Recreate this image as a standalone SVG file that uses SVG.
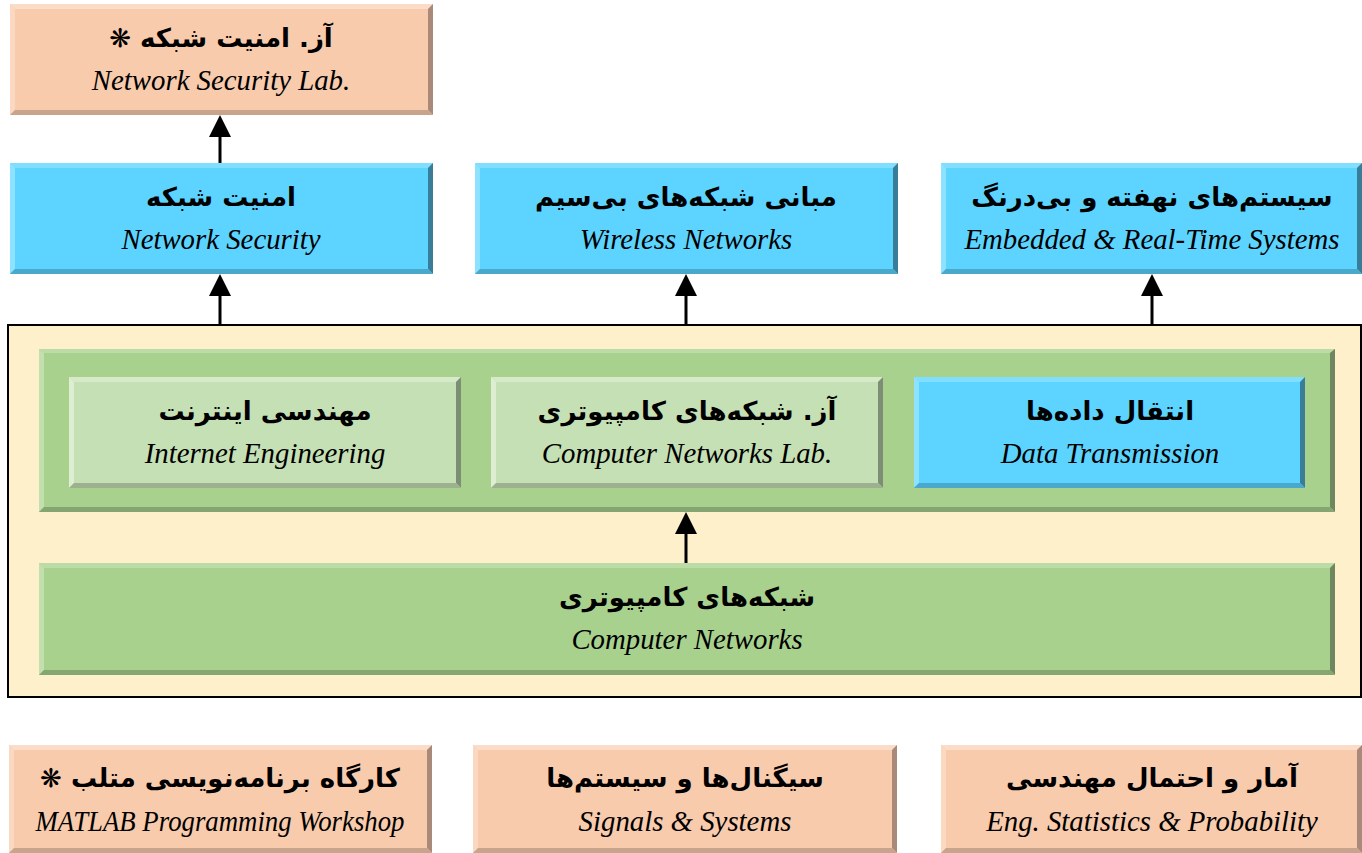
<svg xmlns="http://www.w3.org/2000/svg" width="1362" height="853" viewBox="0 0 1362 853">
<style>
.fa{font-family:"DejaVu Sans","Noto Sans",sans-serif;font-weight:bold;font-size:26px;fill:#000;text-anchor:middle}
.en{font-family:"Liberation Serif",serif;font-style:italic;font-size:28.8px;fill:#000;text-anchor:middle}
.pe .m{fill:#F8CBAD}.pe .t{fill:#FBDCC9}.pe .l{fill:#FAD8C2}.pe .r{fill:#A8897A}.pe .b{fill:#C8A48C}
.bl .m{fill:#5CD4FF}.bl .t{fill:#80DFFF}.bl .l{fill:#8DE3FF}.bl .r{fill:#3A7D98}.bl .b{fill:#4AA8CB}
.lg .m{fill:#C5E0B4}.lg .t{fill:#D6EACA}.lg .l{fill:#DDEED3}.lg .r{fill:#7E8E74}.lg .b{fill:#9DB190}
.gr .m{fill:#A9D18E}.gr .t{fill:#BCDBA6}.gr .l{fill:#C2DFAE}.gr .r{fill:#6E875E}.gr .b{fill:#86A671}
.conn line{stroke:#000;stroke-width:3}
</style>
<defs>
<marker id="ah" markerUnits="userSpaceOnUse" markerWidth="22" markerHeight="22" viewBox="0 0 20 20" refX="10" refY="10" orient="auto">
<path d="M0,0 L20,10 L0,20 z" fill="#000"/>
</marker>
</defs>
<rect width="1362" height="853" fill="#fff"/>

<g id="container">
<rect x="8" y="325" width="1353" height="372" fill="#FFF0CC" stroke="#000" stroke-width="2"/>
</g>

<g id="panel" class="gr">
<rect class="m" x="39" y="349" width="1296" height="163"/>
<polygon class="t" points="39,349 1335,349 1330,353 44,353"/>
<polygon class="l" points="39,349 44,353 44,507 39,512"/>
<polygon class="r" points="1335,349 1335,512 1330,507 1330,353"/>
<polygon class="b" points="39,512 44,507 1330,507 1335,512"/>
</g>

<g id="netseclab" class="pe">
<rect class="m" x="10" y="4" width="423" height="111"/>
<polygon class="t" points="10,4 433,4 428,9 15,9"/>
<polygon class="l" points="10,4 15,9 15,110 10,115"/>
<polygon class="r" points="433,4 433,115 428,110 428,9"/>
<polygon class="b" points="10,115 15,110 428,110 433,115"/>
<text class="fa" x="221" y="47" direction="rtl">آز. امنیت شبکه ❋</text>
<text class="en" x="221" y="90">Network Security Lab.</text>
</g>

<g id="netsec" class="bl">
<rect class="m" x="10" y="163" width="423" height="111"/>
<polygon class="t" points="10,163 433,163 428,168 15,168"/>
<polygon class="l" points="10,163 15,168 15,269 10,274"/>
<polygon class="r" points="433,163 433,274 428,269 428,168"/>
<polygon class="b" points="10,274 15,269 428,269 433,274"/>
<text class="fa" x="221" y="206">امنیت شبکه</text>
<text class="en" x="221" y="249">Network Security</text>
</g>

<g id="wireless" class="bl">
<rect class="m" x="475" y="163" width="423" height="111"/>
<polygon class="t" points="475,163 898,163 893,168 480,168"/>
<polygon class="l" points="475,163 480,168 480,269 475,274"/>
<polygon class="r" points="898,163 898,274 893,269 893,168"/>
<polygon class="b" points="475,274 480,269 893,269 898,274"/>
<text class="fa" x="686" y="206">مبانی شبکه‌های بی‌سیم</text>
<text class="en" x="686" y="249">Wireless Networks</text>
</g>

<g id="embedded" class="bl">
<rect class="m" x="941" y="163" width="421" height="111"/>
<polygon class="t" points="941,163 1362,163 1357,168 946,168"/>
<polygon class="l" points="941,163 946,168 946,269 941,274"/>
<polygon class="r" points="1362,163 1362,274 1357,269 1357,168"/>
<polygon class="b" points="941,274 946,269 1357,269 1362,274"/>
<text class="fa" x="1152" y="206">سیستم‌های نهفته و بی‌درنگ</text>
<text class="en" x="1152" y="249">Embedded &amp; Real-Time Systems</text>
</g>

<g id="interneteng" class="lg">
<rect class="m" x="69" y="377" width="392" height="111"/>
<polygon class="t" points="69,377 461,377 456,382 74,382"/>
<polygon class="l" points="69,377 74,382 74,483 69,488"/>
<polygon class="r" points="461,377 461,488 456,483 456,382"/>
<polygon class="b" points="69,488 74,483 456,483 461,488"/>
<text class="fa" x="265" y="420">مهندسی اینترنت</text>
<text class="en" x="265" y="463">Internet Engineering</text>
</g>

<g id="cnlab" class="lg">
<rect class="m" x="491" y="377" width="392" height="111"/>
<polygon class="t" points="491,377 883,377 878,382 496,382"/>
<polygon class="l" points="491,377 496,382 496,483 491,488"/>
<polygon class="r" points="883,377 883,488 878,483 878,382"/>
<polygon class="b" points="491,488 496,483 878,483 883,488"/>
<text class="fa" x="687" y="420" direction="rtl">آز. شبکه‌های کامپیوتری</text>
<text class="en" x="687" y="463">Computer Networks Lab.</text>
</g>

<g id="datatx" class="bl">
<rect class="m" x="914" y="377" width="391" height="111"/>
<polygon class="t" points="914,377 1305,377 1300,382 919,382"/>
<polygon class="l" points="914,377 919,382 919,483 914,488"/>
<polygon class="r" points="1305,377 1305,488 1300,483 1300,382"/>
<polygon class="b" points="914,488 919,483 1300,483 1305,488"/>
<text class="fa" x="1110" y="420">انتقال داده‌ها</text>
<text class="en" x="1110" y="463">Data Transmission</text>
</g>

<g id="compnet" class="gr">
<rect class="m" x="39" y="563" width="1296" height="112"/>
<polygon class="t" points="39,563 1335,563 1330,568 44,568"/>
<polygon class="l" points="39,563 44,568 44,670 39,675"/>
<polygon class="r" points="1335,563 1335,675 1330,670 1330,568"/>
<polygon class="b" points="39,675 44,670 1330,670 1335,675"/>
<text class="fa" x="687" y="606">شبکه‌های کامپیوتری</text>
<text class="en" x="687" y="649">Computer Networks</text>
</g>

<g id="matlab" class="pe">
<rect class="m" x="9" y="745" width="423" height="108"/>
<polygon class="t" points="9,745 432,745 427,750 14,750"/>
<polygon class="l" points="9,745 14,750 14,848 9,853"/>
<polygon class="r" points="432,745 432,853 427,848 427,750"/>
<polygon class="b" points="9,853 14,848 427,848 432,853"/>
<text class="fa" x="220" y="787" direction="rtl">کارگاه برنامه‌نویسی متلب ❋</text>
<text class="en" x="220" y="831" textLength="369" lengthAdjust="spacingAndGlyphs">MATLAB Programming Workshop</text>
</g>

<g id="signals" class="pe">
<rect class="m" x="473" y="745" width="424" height="108"/>
<polygon class="t" points="473,745 897,745 892,750 478,750"/>
<polygon class="l" points="473,745 478,750 478,848 473,853"/>
<polygon class="r" points="897,745 897,853 892,848 892,750"/>
<polygon class="b" points="473,853 478,848 892,848 897,853"/>
<text class="fa" x="685" y="787">سیگنال‌ها و سیستم‌ها</text>
<text class="en" x="685" y="831">Signals &amp; Systems</text>
</g>

<g id="stats" class="pe">
<rect class="m" x="941" y="745" width="421" height="108"/>
<polygon class="t" points="941,745 1362,745 1357,750 946,750"/>
<polygon class="l" points="941,745 946,750 946,848 941,853"/>
<polygon class="r" points="1362,745 1362,853 1357,848 1357,750"/>
<polygon class="b" points="941,853 946,848 1357,848 1362,853"/>
<text class="fa" x="1152" y="787">آمار و احتمال مهندسی</text>
<text class="en" x="1152" y="831">Eng. Statistics &amp; Probability</text>
</g>

<g id="connectors" class="conn">
<line x1="220" y1="163" x2="220" y2="126" marker-end="url(#ah)"/>
<line x1="220" y1="324" x2="220" y2="285" marker-end="url(#ah)"/>
<line x1="686" y1="324" x2="686" y2="285" marker-end="url(#ah)"/>
<line x1="1152" y1="324" x2="1152" y2="285" marker-end="url(#ah)"/>
<line x1="686" y1="563" x2="686" y2="523" marker-end="url(#ah)"/>
</g>
</svg>
